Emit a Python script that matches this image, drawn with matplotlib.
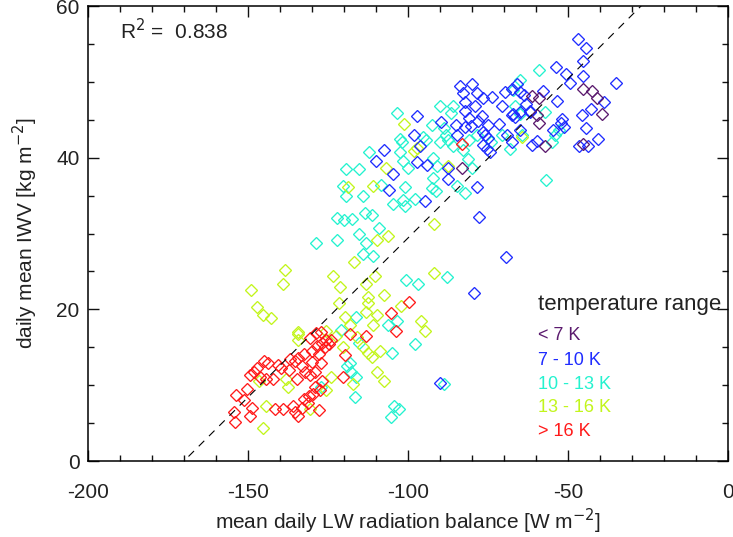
import matplotlib
matplotlib.use("Agg")
import matplotlib.pyplot as plt
from matplotlib.ticker import MultipleLocator
import numpy as np

plt.rcParams['font.family'] = ['Liberation Sans', 'DejaVu Sans']
plt.rcParams['axes.unicode_minus'] = False

# temperature range groups: (x = LW balance [W m-2], y = IWV [kg m-2])
x_lt7 = [-59.1, -59.1, -45.2, -42.5, -40.9, -39.3, -57.2, -61.3, -59.8, -45.2, -83.2]
y_lt7 = [47.9, 44.6, 49.1, 48.8, 47.9, 45.8, 41.5, 48.1, 45.6, 41.8, 38.7]

x_7_10 = [-44.3, -45.2, -35.0, -45.2, -50.5, -53.7, -49.2, -38.6, -63.7, -57.8, -63.1, -65.0,
          -67.0, -61.7, -69.0, -71.6, -74.9, -76.9, -78.9, -82.2, -80.9, -80.3, -82.2, -78.1,
          -51.3, -40.6, -43.8, -59.7, -84.8, -96.1, -83.75, -80.1, -82.8, -78.5, -76.6, -82.2,
          -73.75, -69.7, -67.6, -66.0, -65.0, -61.9, -53.3, -51.7, -52.2, -45.7, -42.9, -44.2,
          -46.5, -54.8, -70.7, -67.6, -66.6, -65.0, -67.6, -61.3, -76.5, -75.9, -74.9, -76.5,
          -75.4, -74.4, -87.6, -78.5, -77.7, -69.5, -79.3, -97.3, -89.8, -85.0, -98.1, -107.5,
          -110.0, -104.8, -97.1, -94.0, -87.4, -105.8, -94.7, -90.1, -46.9]
y_7_10 = [54.4, 52.7, 49.8, 50.8, 51.0, 51.9, 49.9, 47.4, 48.3, 48.8, 47.1, 46.0,
          45.8, 46.0, 43.0, 44.5, 44.3, 45.5, 46.8, 46.2, 45.2, 44.2, 44.0, 44.9,
          44.0, 42.5, 41.5, 42.2, 43.0, 41.5, 49.5, 49.7, 48.5, 48.5, 47.9, 47.4,
          48.0, 48.7, 49.1, 49.7, 48.7, 46.1, 47.5, 45.1, 44.6, 45.6, 46.4, 43.9,
          41.5, 43.6, 46.8, 45.6, 45.3, 43.7, 42.1, 41.7, 43.4, 43.0, 42.6, 41.7,
          41.2, 40.8, 37.2, 36.1, 32.2, 26.9, 22.2, 45.5, 44.7, 44.3, 43.0, 41.0,
          39.6, 37.8, 39.4, 39.0, 38.6, 35.7, 34.3, 10.3, 55.6]

x_10_13 = [-59.1, -65.0, -65.0, -64.4, -55.0, -88.1, -102.0, -67.3, -57.2, -54.0, -52.7, -66.6,
           -68.1, -70.7, -73.9, -78.5, -80.1, -81.1, -80.8, -82.2, -84.8, -56.7, -103.5, -90.0,
           -85.8, -86.4, -92.6, -88.75, -102.5, -95.2, -94.3, -90.0, -87.4, -85.8, -82.7, -112.2,
           -102.5, -101.5, -99.9, -92.1, -90.8, -92.1, -92.6, -91.2, -100.9, -108.4, -120.2, -119.4,
           -119.2, -115.2, -114.0, -104.8, -100.9, -101.5, -97.8, -122.3, -120.0, -117.4, -113.4, -111.3,
           -109.0, -115.2, -113.0, -122.3, -114.0, -110.8, -100.6, -96.97, -87.9, -128.75, -106.3, -103.3,
           -97.8, -104.9, -116.6, -104.4, -102.8, -105.3, -88.7, -120.9, -116.1, -115.3, -118.2, -117.7,
           -116.3, -127.3, -119.0]
y_10_13 = [51.6, 50.2, 45.8, 43.0, 42.1, 43.0, 42.1, 48.9, 46.0, 43.0, 43.7, 46.8,
           41.2, 43.0, 42.1, 43.0, 38.6, 39.8, 42.3, 35.3, 36.3, 37.0, 45.9, 46.8,
           46.8, 45.9, 44.3, 43.9, 42.4, 42.7, 42.3, 42.1, 42.3, 41.5, 41.0, 40.7,
           40.8, 39.6, 38.7, 39.9, 38.9, 37.3, 36.0, 35.6, 36.1, 36.4, 36.2, 34.9,
           38.5, 38.5, 34.9, 33.9, 33.6, 34.4, 34.5, 32.1, 31.8, 31.9, 32.7, 32.4,
           30.7, 29.9, 28.8, 29.2, 27.3, 27.0, 23.9, 23.4, 24.2, 28.7, 18.0, 18.5,
           15.4, 14.3, 8.5, 7.3, 6.8, 5.8, 10.1, 17.3, 19.0, 15.6, 12.9, 11.8,
           11.1, 9.8, 12.5]

x_13_16 = [-64.3, -101.2, -106.7, -98.0, -97.3, -87.4, -110.8, -118.6, -109.6, -106.2, -116.8, -91.8,
           -91.8, -123.5, -121.25, -110.3, -113.0, -112.5, -107.4, -138.4, -139.0, -149.1, -147.2, -145.3,
           -142.9, -121.4, -112.4, -102.3, -96.0, -94.8, -108.7, -109.7, -107.6, -113.0, -110.8, -109.7,
           -119.8, -118.2, -115.9, -113.9, -112.4, -111.3, -120.3, -122.5, -125.7, -124.1, -125.7, -117.2,
           -134.4, -134.2, -134.2, -146.4, -144.3, -145.3, -130.5, -137.4, -138.0]
y_13_16 = [42.7, 44.5, 38.7, 40.9, 41.3, 38.9, 36.2, 36.1, 29.2, 29.7, 26.2, 31.3,
           24.8, 24.4, 23.0, 24.4, 23.4, 21.6, 21.9, 25.2, 23.3, 22.6, 20.3, 19.3,
           18.8, 20.8, 20.9, 20.4, 18.4, 17.2, 14.5, 11.8, 10.5, 19.7, 18.0, 19.3,
           19.0, 17.9, 16.4, 15.0, 14.3, 13.7, 15.0, 16.5, 17.2, 11.1, 9.3, 10.2,
           16.7, 15.9, 17.0, 10.5, 7.3, 4.3, 6.9, 9.8, 10.8]

x_gt16 = [-83.2, -99.6, -105.3, -103.6, -118.2, -113.0, -119.8, -120.3, -126.75, -125.5, -124.6, -124.1,
          -125.9, -128.3, -127.8, -130.0, -130.0, -127.3, -132.6, -134.2, -133.1, -132.1, -135.3, -136.85,
          -137.2, -134.7, -130.5, -128.9, -140.6, -139.8, -143.75, -145.0, -148.2, -149.3, -147.2, -146.1,
          -144.3, -142.2, -150.3, -153.8, -151.2, -154.4, -154.1, -148.8, -149.3, -141.6, -139.0, -135.8,
          -135.3, -134.2, -133.1, -132.6, -131.0, -129.7, -128.9, -127.6, -126.75, -127.8, -131.2, -127.3,
          -128.75, -130.5]
y_gt16 = [41.8, 21.0, 19.5, 17.1, 16.7, 16.5, 14.0, 11.1, 15.6, 15.9, 15.4, 15.9,
          15.0, 15.2, 14.1, 14.5, 13.1, 12.9, 14.1, 13.6, 12.5, 11.8, 13.2, 13.4,
          12.0, 10.8, 11.3, 11.7, 12.7, 12.3, 12.9, 13.2, 11.8, 11.4, 12.3, 11.1,
          10.8, 10.8, 9.5, 8.7, 8.0, 6.4, 5.2, 7.0, 6.0, 6.8, 6.8, 7.2,
          6.4, 6.0, 7.0, 8.2, 8.6, 8.9, 9.7, 9.3, 10.5, 6.7, 7.6, 17.0,
          16.9, 16.2]

labels = ['< 7 K', '7 - 10 K', '10 - 13 K', '13 - 16 K', '> 16 K']
colors = ['#5b1a6e', '#1f2cff', '#24f2cf', '#c2f51c', '#ff1a1a']
r2 = 0.838
fit_x0, fit_slope = -170.0, 0.42

fig = plt.figure(figsize=(7.33, 5.37), dpi=100)
ax = fig.add_axes([0.120, 0.1415, 0.873, 0.8473])

groups = [(x_lt7, y_lt7), (x_7_10, y_7_10), (x_10_13, y_10_13), (x_13_16, y_13_16), (x_gt16, y_gt16)]
for i in [2, 3, 1, 0, 4]:
    gx, gy = groups[i]
    ax.plot(gx, gy, linestyle='none', marker='D', markersize=6.0,
            markerfacecolor='none', markeredgecolor=colors[i], markeredgewidth=0.95)

lx = np.array([-200.0, 0.0])
ax.plot(lx, fit_slope * (lx - fit_x0), color='black', linestyle=(0, (7, 6)), linewidth=0.8)

ax.set_xlim(-200, 0)
ax.set_ylim(0, 60)
ax.xaxis.set_major_locator(MultipleLocator(50))
ax.xaxis.set_minor_locator(MultipleLocator(10))
ax.yaxis.set_major_locator(MultipleLocator(20))
ax.yaxis.set_minor_locator(MultipleLocator(5))
ax.tick_params(which='both', direction='in', top=True, right=True, width=1.0, color='#111111')
ax.tick_params(which='major', length=8, labelsize=15, labelcolor='#222222')
ax.tick_params(axis='x', which='major', pad=16)
ax.tick_params(axis='y', which='major', pad=6)
ax.tick_params(which='minor', length=4)
for s in ax.spines.values():
    s.set_linewidth(1.1)

ax.set_xlabel('mean daily LW radiation balance [W m$^{-2}$]', fontsize=15, color='#222222', labelpad=3)
ax.set_ylabel('daily mean IWV [kg m$^{-2}$]', fontsize=15, color='#222222', labelpad=12)

ax.text(0.05, 0.947, 'R$^2$ =  %.3f' % r2, transform=ax.transAxes, fontsize=15,
        color='#222222', va='center', ha='left')

ax.text(0.703, 0.345, 'temperature range', transform=ax.transAxes, fontsize=16,
        color='#222222', va='center', ha='left')
ypos = [0.275, 0.222, 0.169, 0.117, 0.064]
for lab, c, yp in zip(labels, colors, ypos):
    ax.text(0.703, yp, lab, transform=ax.transAxes, fontsize=13, color=c, va='center', ha='left')

fig.savefig('out.png', dpi=100)
